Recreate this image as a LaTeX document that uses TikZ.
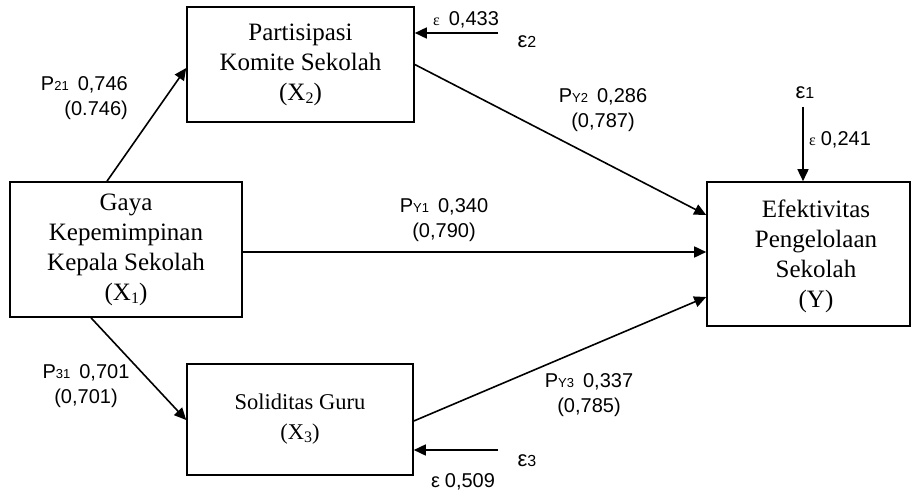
\documentclass[tikz,border=0pt]{standalone}
\usepackage{fontspec}
\setmainfont{Liberation Serif}
\newfontfamily\labfont{Liberation Sans}
\usetikzlibrary{arrows.meta}
\newcommand\psub[1]{{\fontsize{13}{13}\selectfont #1}}
\newcommand\bsub[1]{\raisebox{-3pt}{\fontsize{16}{16}\selectfont #1}}
\newcommand\seps{{\rmfamily\fontsize{16}{16}\selectfont ε}}
\newcommand\beps[1]{{\fontsize{22}{22}\selectfont ε}{\fontsize{16}{16}\selectfont #1}}
\tikzset{
  box/.style={draw, line width=1.6pt, inner sep=0pt, align=center,
    font={\fontsize{25}{30}\selectfont}},
  boxtext/.style={inner sep=0pt, align=center, font={\fontsize{25}{30}\selectfont}},
  lab/.style={inner sep=0pt, align=center, font={\labfont\fontsize{20}{25}\selectfont}},
  arr/.style={line width=1.6pt, -{Triangle[length=12pt,width=11pt]}}
}
\begin{document}
\begin{tikzpicture}[x=1pt,y=-1pt]
\useasboundingbox (0,0) rectangle (912,492);
% boxes
\node[box, minimum width=232pt, minimum height=135pt] (X1) at (126,249.5)
  {Gaya\\Kepemimpinan\\Kepala Sekolah\\(X\bsub{1})};
\node[box, minimum width=227pt, minimum height=115pt] (X2) at (300.5,64.5)
  {Partisipasi\\Komite Sekolah\\(X\bsub{2})};
\node[box, font={\fontsize{22.5}{30}\selectfont}, minimum width=226pt, minimum height=111pt] (X3) at (300,419.5)
  {Soliditas Guru\\(X\bsub{3})};
\node[box, minimum width=203pt, minimum height=144pt] (Y) at (808.5,254) {};
\node[boxtext] (Yt) at (816,256) {Efektivitas\\Pengelolaan\\Sekolah\\(Y)};
% error sources
\coordinate (e2s) at ([yshift=31.5pt]X2.east -| 498,0);
\coordinate (e3s) at ([yshift=-30.5pt]X3.east -| 498,0);
\coordinate (e1s) at ([xshift=-5.5pt]Y.north |- 0,107);
% connectors
\draw[arr] ([xshift=-19pt]X1.north) -- ([yshift=-3.5pt]X2.west);
\draw[arr] ([xshift=-35pt]X1.south) -- ([yshift=-0.5pt]X3.west);
\draw[arr] ([yshift=-2.5pt]X1.east) -- ([yshift=2pt]Y.west);
\draw[arr] (X2.east) -- ([yshift=39pt]Y.west);
\draw[arr] ([yshift=-1.5pt]X3.east) -- ([yshift=-43pt]Y.west);
\draw[arr] (e2s) -- ([yshift=31.5pt]X2.east);
\draw[arr] (e3s) -- ([yshift=-30.5pt]X3.east);
\draw[arr] (e1s) -- ([xshift=-5.5pt]Y.north);
% labels
\node[lab, align=right, anchor=east] (l21) at (128,98) {P\psub{21}\hspace{9pt}0,746\\(0.746)};
\node[lab] (lY2) at (603,110.5) {P\psub{Y2}\hspace{9pt}0,286\\(0,787)};
\node[lab] (lY1) at (444,220.5) {P\psub{Y1}\hspace{9pt}0,340\\(0,790)};
\node[lab] (l31) at (86,386.5) {P\psub{31}\hspace{9pt}0,701\\(0,701)};
\node[lab] (lY3) at (589,395) {P\psub{Y3}\hspace{9pt}0,337\\(0,785)};
\node[lab] (le2v) at (466,20) {\seps\hspace{9pt}0,433};
\node[lab] (le2) at (527,42) {\beps{2}};
\node[lab] (le1) at (805,93) {\beps{1}};
\node[lab] (le1v) at (840,140) {\seps\hspace{5pt}0,241};
\node[lab] (le3) at (527,461) {\beps{3}};
\node[lab] (le3v) at (463,482) {{\fontsize{20}{20}\selectfont ε}\hspace{5pt}0,509};
\end{tikzpicture}
\end{document}
